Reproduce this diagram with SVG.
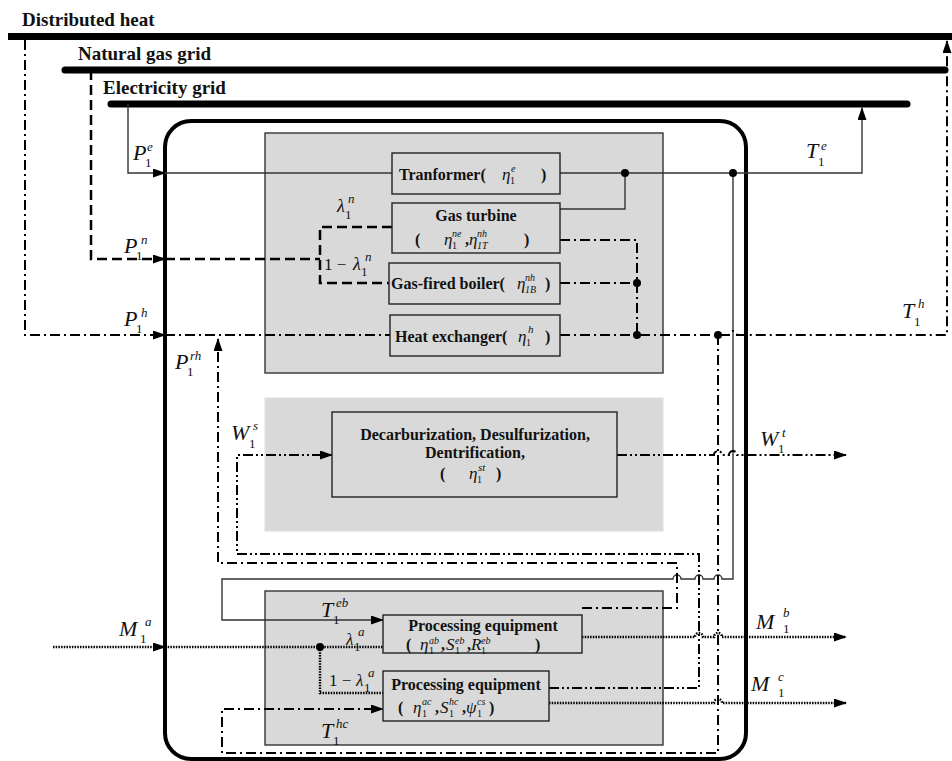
<svg xmlns="http://www.w3.org/2000/svg" width="952" height="761" viewBox="0 0 952 761">
<style>
.grid{stroke:#000;stroke-width:7;stroke-linecap:round;fill:none}
.thin{stroke:#333;stroke-width:1.4;fill:none}
.dash{stroke:#000;stroke-width:2.5;stroke-dasharray:10 5;fill:none}
.dd{stroke:#000;stroke-width:2;stroke-dasharray:10 4 2 4;fill:none}
.ddd{stroke:#000;stroke-width:2;stroke-dasharray:10 3 2 3 2 3;fill:none}
.dot{stroke:#000;stroke-width:2.5;stroke-dasharray:1.5 1.2;fill:none}
.panel{fill:#d9d9d9;stroke:#333;stroke-width:1.4}
.box{fill:#d9d9d9;stroke:#222;stroke-width:1.4}
text{font-family:"Liberation Serif","Times New Roman",serif;fill:#111}
.lbl{font-weight:bold;font-size:16px}
.hd{font-weight:bold;font-size:19px}
.m{font-style:italic}
.big{font-size:22px}
.s{font-size:13px}
.b{font-size:10px}
</style>
<defs>
<marker id="ar" markerWidth="13" markerHeight="9" refX="12" refY="4.5" orient="auto" markerUnits="userSpaceOnUse"><path d="M0,0 L13,4.5 L0,9 z" fill="#000"/></marker>
</defs>

<g id="grids">
<line x1="8" y1="36.5" x2="952" y2="36.5" stroke="#000" stroke-width="7"/>
<line class="grid" x1="65" y1="70" x2="945" y2="70"/>
<line class="grid" x1="111" y1="104" x2="907" y2="104"/>
<text x="22" y="26" class="hd">Distributed heat</text>
<text x="78" y="60" class="hd">Natural gas grid</text>
<text x="103" y="94" class="hd">Electricity grid</text>
</g>

<g id="enclosure">
<rect x="165" y="121" width="581" height="638" rx="26" fill="none" stroke="#000" stroke-width="4"/>
</g>

<g id="panel-energy"><rect class="panel" x="265" y="133" width="398" height="240"/></g>
<g id="panel-treatment"><rect x="265" y="398" width="398" height="133" fill="#d9d9d9" stroke="#e8dede" stroke-width="1.2"/></g>
<g id="panel-processing"><rect class="panel" x="265" y="591" width="398" height="154"/></g>

<g id="connectors">
<path class="thin" d="M128,104 L128,173 L165,173" marker-end="url(#ar)"/>
<path class="thin" d="M165,173 L392,173"/>
<path class="thin" d="M560,173 L862,173 L862,108" marker-end="url(#ar)"/>
<path class="thin" d="M560,209 L625,209 L625,173"/>
<path class="thin" d="M733,173 L733,579 L722,579 A4,4 0 0 0 714,579 L703,579 A4,4 0 0 0 695,579 L681,579 A4,4 0 0 0 673,579 L222,579 L222,620 L383,620" marker-end="url(#ar)"/>
<path class="dash" d="M91,70 L91,259 L165,259" marker-end="url(#ar)"/>
<path class="dash" d="M165,259 L320,259"/>
<path class="dash" d="M392,227 L320,227 L320,283 L389,283"/>
<path class="dd" d="M25,40 L25,335 L165,335" marker-end="url(#ar)"/>
<path class="dd" d="M165,335 L390,335"/>
<path class="dd" d="M560,240 L637,240 L637,335"/>
<path class="dd" d="M560,283 L637,283"/>
<path class="dd" d="M560,335 L729,335 A4,4 0 0 1 737,335 L947,335 L947,41" marker-end="url(#ar)"/>
<path class="dd" d="M718,335 L718,753 L222,753 L222,709 L383,709" marker-end="url(#ar)"/>
<path class="dd" d="M582,608 L677,608 L677,563 L218,563 L218,339" marker-end="url(#ar)"/>
<path class="ddd" d="M549,688 L699,688 L699,554 L237,554 L237,455 L332,455" marker-end="url(#ar)"/>
<path class="ddd" d="M617,455 L714,455 A4,4 0 0 1 722,455 L729,455 A4,4 0 0 1 737,455 L846,455" marker-end="url(#ar)"/>
<path class="dot" d="M53,647 L165,647" marker-end="url(#ar)"/>
<path class="dot" d="M165,647 L383,647"/>
<path class="dot" d="M320,647 L320,693 L383,693"/>
<path class="dot" d="M582,637 L695,637 A4,4 0 0 1 703,637 L714,637 A4,4 0 0 1 722,637 L846,637" marker-end="url(#ar)"/>
<path class="dot" d="M549,703 L714,703 A4,4 0 0 1 722,703 L846,703" marker-end="url(#ar)"/>
<g fill="#000">
<circle cx="625" cy="173" r="4"/><circle cx="733" cy="173" r="4"/>
<circle cx="637" cy="283" r="4"/><circle cx="637" cy="335" r="4"/>
<circle cx="718" cy="335" r="4"/><circle cx="320" cy="647" r="4"/>
</g>
</g>

<g id="transformer">
<rect class="box" x="392" y="153" width="168" height="41"/>
<text class="lbl" x="399" y="180">Tranformer(</text>
<text class="m" x="502" y="180" font-size="17">η</text><text class="b" x="510" y="184">1</text><text class="m b" x="511" y="172">e</text>
<text class="lbl" x="541" y="180">)</text>
</g>

<g id="gas-turbine">
<rect class="box" x="392" y="203" width="168" height="50"/>
<text class="lbl" x="476" y="221" text-anchor="middle">Gas turbine</text>
<text class="lbl" x="415" y="245">(</text>
<text class="m" x="444" y="245" font-size="17">η</text><text class="b" x="452" y="249">1</text><text class="m b" x="452" y="237">ne</text>
<text class="lbl" x="465" y="245">,</text>
<text class="m" x="469" y="245" font-size="17">η</text><text class="m b" x="477" y="249">1T</text><text class="m b" x="477" y="237">nh</text>
<text class="lbl" x="524" y="245">)</text>
</g>

<g id="gas-boiler">
<rect class="box" x="389" y="263" width="171" height="41"/>
<text class="lbl" x="391" y="289">Gas-fired boiler(</text>
<text class="m" x="517" y="289" font-size="17">η</text><text class="m b" x="525" y="293">1B</text><text class="m b" x="525" y="281">nh</text>
<text class="lbl" x="545" y="289">)</text>
</g>

<g id="heat-exchanger">
<rect class="box" x="390" y="315" width="170" height="41"/>
<text class="lbl" x="395" y="342">Heat exchanger(</text>
<text class="m" x="518" y="342" font-size="17">η</text><text class="b" x="526" y="346">1</text><text class="m" x="528" y="333" font-size="11">h</text>
<text class="lbl" x="545" y="342">)</text>
</g>

<g id="treatment">
<rect class="box" x="332" y="412" width="285" height="85"/>
<text class="lbl" x="475" y="440" text-anchor="middle">Decarburization, Desulfurization,</text>
<text class="lbl" x="475" y="458" text-anchor="middle">Dentrification,</text>
<text class="lbl" x="440" y="479">(</text>
<text class="m" x="469" y="479" font-size="17">η</text><text class="b" x="477" y="483">1</text><text class="m" x="478" y="471" font-size="11">st</text>
<text class="lbl" x="496" y="479">)</text>
</g>

<g id="processing-1">
<rect class="box" x="383" y="615" width="199" height="38"/>
<text class="lbl" x="483" y="631" text-anchor="middle">Processing equipment</text>
<text class="lbl" x="406" y="650">(</text>
<text class="m" x="420" y="650" font-size="17">η</text><text class="b" x="429" y="654">1</text><text class="m b" x="429" y="644">ab</text>
<text class="lbl" x="441" y="650">,</text>
<text class="m" x="446" y="650" font-size="17">S</text><text class="b" x="455" y="654">1</text><text class="m b" x="455" y="644">eb</text>
<text class="lbl" x="467" y="650">,</text>
<text class="m" x="471" y="650" font-size="17">R</text><text class="b" x="481" y="654">1</text><text class="m b" x="481" y="644">eb</text>
<text class="lbl" x="535" y="650">)</text>
</g>

<g id="processing-2">
<rect class="box" x="383" y="671" width="166" height="50"/>
<text class="lbl" x="466" y="690" text-anchor="middle">Processing equipment</text>
<text class="lbl" x="398" y="713">(</text>
<text class="m" x="413" y="713" font-size="17">η</text><text class="b" x="422" y="717">1</text><text class="m b" x="422" y="705">ac</text>
<text class="lbl" x="435" y="713">,</text>
<text class="m" x="440" y="713" font-size="17">S</text><text class="b" x="449" y="717">1</text><text class="m b" x="449" y="705">hc</text>
<text class="lbl" x="462" y="713">,</text>
<text class="m" x="466" y="713" font-size="17">ψ</text><text class="b" x="477" y="717">1</text><text class="m b" x="477" y="705">cs</text>
<text class="lbl" x="489" y="713">)</text>
</g>

<g id="labels">
<text class="m big" x="133" y="160">P</text><text class="s" x="145" y="167">1</text><text class="m s" x="147" y="151">e</text>
<text class="m big" x="124" y="253">P</text><text class="s" x="136" y="260">1</text><text class="m s" x="141" y="244">n</text>
<text class="m big" x="124" y="326">P</text><text class="s" x="136" y="333">1</text><text class="m s" x="141" y="317">h</text>
<text class="m big" x="175" y="369">P</text><text class="s" x="187" y="376">1</text><text class="m s" x="190" y="360">rh</text>
<text class="m" x="337" y="212" font-size="18">λ</text><text class="s" x="345" y="219">1</text><text class="m s" x="348" y="203">n</text>
<text x="324" y="270" font-size="17">1 −</text><text class="m" x="353" y="270" font-size="18">λ</text><text class="s" x="361" y="276">1</text><text class="m s" x="365" y="261">n</text>
<text class="m big" x="806" y="158">T</text><text class="s" x="818" y="166">1</text><text class="m s" x="821" y="150">e</text>
<text class="m big" x="902" y="318">T</text><text class="s" x="914" y="326">1</text><text class="m s" x="918" y="308">h</text>
<text class="m big" x="231" y="440">W</text><text class="s" x="249" y="448">1</text><text class="m s" x="253" y="430">s</text>
<text class="m big" x="760" y="446">W</text><text class="s" x="778" y="453">1</text><text class="m s" x="782" y="437">t</text>
<text class="m big" x="321" y="617">T</text><text class="s" x="333" y="624">1</text><text class="m s" x="336" y="607">eb</text>
<text class="m" x="346" y="645" font-size="17">λ</text><text class="s" x="354" y="651">1</text><text class="m s" x="358" y="636">a</text>
<text x="329" y="686" font-size="17">1 −</text><text class="m" x="356" y="686" font-size="17">λ</text><text class="s" x="364" y="692">1</text><text class="m s" x="368" y="677">a</text>
<text class="m big" x="321" y="738">T</text><text class="s" x="333" y="745">1</text><text class="m s" x="336" y="728">hc</text>
<text class="m big" x="119" y="636">M</text><text class="s" x="140" y="643">1</text><text class="m s" x="145" y="626">a</text>
<text class="m big" x="756" y="629">M</text><text class="s" x="783" y="633">1</text><text class="m s" x="783" y="617">b</text>
<text class="m big" x="751" y="691">M</text><text class="s" x="778" y="697">1</text><text class="m s" x="778" y="681">c</text>
</g>
</svg>
